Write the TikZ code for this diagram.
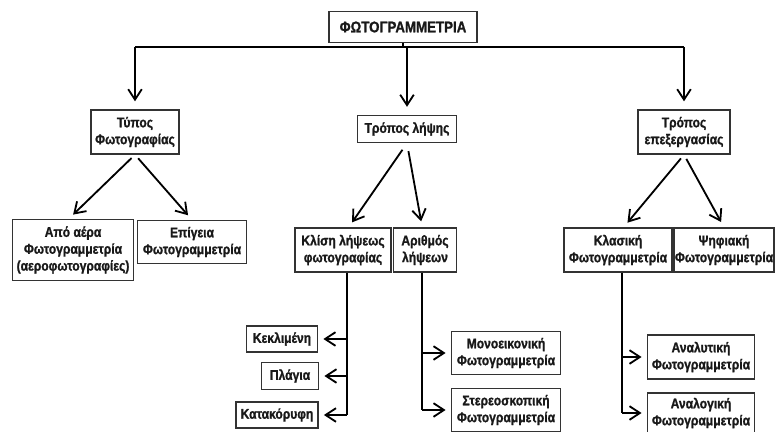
\documentclass[tikz,border=0pt]{standalone}
\usepackage{fontspec}
\setmainfont{Liberation Sans}[FakeStretch=0.86,BoldFont={Liberation Sans Bold},
  BoldFeatures={FakeStretch=0.86,FakeBold=1.2}]
\usetikzlibrary{arrows.meta}
\begin{document}
\begin{tikzpicture}[x=0.025cm,y=-0.025cm]
  \tikzstyle{box}=[draw=black!80,line width=1pt,fill=white,align=center,inner sep=0pt,
    text=black!90,font=\fontsize{10}{12}\selectfont\bfseries]
  \tikzstyle{arr}=[line width=1.3pt,-{Straight Barb[length=2.6mm,width=3.4mm]}]
  \tikzstyle{ln}=[line width=1.3pt]
  \useasboundingbox (0,0) rectangle (775,432);
  % top level
  \node[box,minimum width=37mm,minimum height=7.75mm,
    font=\fontsize{11}{13}\selectfont\bfseries] (root) at (403,27) {ΦΩΤΟΓΡΑΜΜΕΤΡΙΑ};
  \node[box,minimum width=22mm,minimum height=11mm] (typos) at (135,132) {Τύπος\\Φωτογραφίας};
  \node[box,minimum width=24.75mm,minimum height=6.75mm] (lipsi) at (407,129) {Τρόπος λήψης};
  \node[box,minimum width=23mm,minimum height=11mm] (epex) at (684,132) {Τρόπος\\επεξεργασίας};
  % second level
  \node[box,minimum width=30.25mm,minimum height=15.25mm] (aero) at (73,250) {Από αέρα\\Φωτογραμμετρία\\(αεροφωτογραφίες)};
  \node[box,minimum width=27.25mm,minimum height=10.75mm] (epigeia) at (192,242) {Επίγεια\\Φωτογραμμετρία};
  \node[box,minimum width=24mm,minimum height=11mm] (klisi) at (343,250) {Κλίση λήψεως\\φωτογραφίας};
  \node[box,minimum width=15.75mm,minimum height=11mm] (arithmos) at (425,250) {Αριθμός\\λήψεων};
  \node[box,minimum width=27mm,minimum height=11mm] (klasiki) at (618,250) {Κλασική\\Φωτογραμμετρία};
  \node[box,minimum width=25mm,minimum height=11mm] (psifiaki) at (724,250) {Ψηφιακή\\Φωτογραμμετρία};
  % third level
  \node[box,minimum width=17.75mm,minimum height=6.5mm] (keklimeni) at (282,339) {Κεκλιμένη};
  \node[box,minimum width=14.25mm,minimum height=6.75mm] (plagia) at (290,376) {Πλάγια};
  \node[box,minimum width=20.5mm,minimum height=6.5mm] (katakoryfi) at (277,415) {Κατακόρυφη};
  \node[box,minimum width=27.25mm,minimum height=10.75mm] (mono) at (506,353) {Μονοεικονική\\Φωτογραμμετρία};
  \node[box,minimum width=27.25mm,minimum height=10.75mm] (stereo) at (506,410) {Στερεοσκοπική\\Φωτογραμμετρία};
  \node[box,minimum width=26.75mm,minimum height=11mm] (analytiki) at (701,357) {Αναλυτική\\Φωτογραμμετρία};
  \node[box,minimum width=26.75mm,minimum height=10mm] (analogiki) at (701,413) {Αναλογική\\Φωτογραμμετρία};
  % root bus
  \coordinate (bus) at (403,47);
  \draw[ln] (root.south) -- (bus);
  \draw[ln] (typos |- bus) -- (epex |- bus);
  \foreach \n in {typos,lipsi,epex}
    \draw[arr,shorten >=2mm] (\n |- bus) -- (\n.north);
  % diagonal arrows
  \draw[arr,shorten <=1.2mm,shorten >=1.5mm] (typos.south) -- ([xshift=-3] aero.north);
  \draw[arr,shorten <=1.2mm,shorten >=1.5mm] (typos.south) -- (epigeia.north);
  \draw[arr,shorten <=2mm,shorten >=1.5mm] (lipsi.south) -- ([xshift=4] klisi.north);
  \draw[arr,shorten <=2mm,shorten >=1.5mm] (lipsi.south) -- ([xshift=-2] arithmos.north);
  \draw[arr,shorten <=1.2mm,shorten >=1.5mm] (epex.south) -- ([xshift=4] klasiki.north);
  \draw[arr,shorten <=1.2mm,shorten >=1.5mm] (epex.south) -- (psifiaki.north);
  % side branches
  \draw[ln] ([xshift=3] klisi.south) -- ([xshift=3] klisi.south |- katakoryfi.east);
  \foreach \n in {keklimeni,plagia,katakoryfi}
    \draw[arr,shorten >=1.3mm] ([xshift=3] klisi.south |- \n.east) -- (\n.east);
  \draw[ln] ([xshift=-2] arithmos.south) -- ([xshift=-2] arithmos.south |- stereo.west);
  \foreach \n in {mono,stereo}
    \draw[arr,shorten >=1.3mm] ([xshift=-2] arithmos.south |- \n.west) -- (\n.west);
  \draw[ln] ([xshift=3] klasiki.south) -- ([xshift=3] klasiki.south |- analogiki.west);
  \foreach \n in {analytiki,analogiki}
    \draw[arr,shorten >=1.3mm] ([xshift=3] klasiki.south |- \n.west) -- (\n.west);
\end{tikzpicture}
\end{document}
